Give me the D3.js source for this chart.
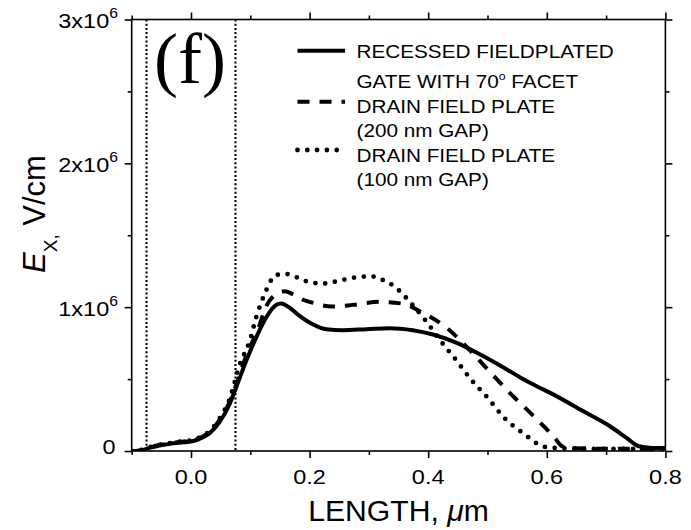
<!DOCTYPE html>
<html>
<head>
<meta charset="utf-8">
<script src="https://cdn.jsdelivr.net/npm/d3@7"></script>
<style>
  body { margin: 0; background: #fff; }
  svg { display: block; }
</style>
</head>
<body>
<svg id="chart" width="691" height="530"></svg>
<script>
// Lateral electric field E_x along the channel (units of 10^6 V/cm)
// for three gate / field-plate designs.

const lengthRecessed = [-0.1, -0.09, -0.08, -0.069, -0.055, -0.041, -0.02, 0.004, 0.016, 0.032, 0.048, 0.065, 0.076, 0.093, 0.110, 0.127, 0.144, 0.152, 0.166, 0.183, 0.206, 0.228, 0.256, 0.296, 0.335, 0.374, 0.408, 0.447, 0.487, 0.532, 0.556, 0.588, 0.605, 0.661, 0.706, 0.734, 0.754, 0.773, 0.8];
const fieldRecessed  = [0, 0, 0.008, 0.023, 0.036, 0.046, 0.058, 0.07, 0.088, 0.125, 0.2, 0.325, 0.44, 0.626, 0.79, 0.93, 1.016, 1.025, 0.997, 0.94, 0.88, 0.847, 0.84, 0.847, 0.854, 0.84, 0.81, 0.754, 0.673, 0.569, 0.51, 0.44, 0.406, 0.278, 0.174, 0.093, 0.035, 0.023, 0.02];

const lengthGap200 = [-0.1, -0.09, -0.08, -0.069, -0.055, -0.041, -0.02, 0.004, 0.016, 0.032, 0.048, 0.065, 0.076, 0.093, 0.116, 0.124, 0.14, 0.158, 0.172, 0.19, 0.206, 0.237, 0.273, 0.317, 0.356, 0.39, 0.432, 0.466, 0.5, 0.537, 0.576, 0.613, 0.625, 0.64, 0.7, 0.8];
const fieldGap200  = [0, 0.002, 0.01, 0.027, 0.04, 0.05, 0.062, 0.075, 0.093, 0.135, 0.215, 0.34, 0.46, 0.66, 0.88, 0.98, 1.08, 1.11, 1.09, 1.05, 1.03, 1.004, 1.016, 1.037, 1.025, 0.962, 0.854, 0.719, 0.568, 0.406, 0.25, 0.093, 0.035, 0.02, 0.015, 0.015];

const lengthGap100 = [-0.1, -0.09, -0.08, -0.069, -0.055, -0.041, -0.02, 0.004, 0.016, 0.032, 0.048, 0.065, 0.082, 0.099, 0.110, 0.124, 0.144, 0.162, 0.192, 0.223, 0.256, 0.292, 0.308, 0.323, 0.340, 0.356, 0.370, 0.396, 0.421, 0.446, 0.471, 0.500, 0.528, 0.564, 0.581, 0.595, 0.62, 0.7, 0.8];
const fieldGap100  = [0, 0.003, 0.012, 0.028, 0.042, 0.052, 0.064, 0.078, 0.097, 0.14, 0.225, 0.36, 0.6, 0.765, 0.93, 1.09, 1.225, 1.23, 1.183, 1.164, 1.19, 1.213, 1.213, 1.19, 1.153, 1.095, 1.032, 0.905, 0.765, 0.638, 0.503, 0.371, 0.232, 0.111, 0.058, 0.03, 0.02, 0.015, 0.015];

// Gate edges marked by thin dotted verticals
const gateEdges = [-0.075, 0.075];

// Axis ticks and labels
const xMajorTicks = [0.0, 0.2, 0.4, 0.6, 0.8];
const xMinorTicks = [-0.1, 0.1, 0.3, 0.5, 0.7];
const xTickLabels = ["0.0", "0.2", "0.4", "0.6", "0.8"];
const yMajorTicks = [0, 1, 2, 3];
const yMinorTicks = [0.5, 1.5, 2.5];
const yTickMantissa = ["0", "1x10", "2x10", "3x10"];
const yTickExponent = ["", "6", "6", "6"];

// Legend text, one entry per series
const legendLabels = [
  ["RECESSED FIELDPLATED", "GATE WITH 70° FACET"],
  ["DRAIN FIELD PLATE", "(200 nm GAP)"],
  ["DRAIN FIELD PLATE", "(100 nm GAP)"]
];

const svg = d3.select("#chart");
const SANS = "'Liberation Sans', Arial, Helvetica, sans-serif";
const SERIF = "'Liberation Serif', 'Times New Roman', serif";
const SX = 1.12; // horizontal stretch of the lettering

const x = d3.scaleLinear().domain([-0.1, 0.8]).range([131.7, 665.4]);
const y = d3.scaleLinear().domain([0, 3]).range([451, 19.5]);

const [x0, x1] = x.range();
const [y0, y1] = y.range();

// clip for the curves
svg.append("defs").append("clipPath").attr("id", "plot-clip")
  .append("rect").attr("x", x0).attr("y", y1).attr("width", x1 - x0).attr("height", y0 - y1);

// gate edge markers
svg.append("g").selectAll("line").data(gateEdges).join("line")
  .attr("x1", d => x(d)).attr("x2", d => x(d))
  .attr("y1", y1).attr("y2", y0)
  .attr("stroke", "#000").attr("stroke-width", 2.1)
  .attr("stroke-dasharray", "2,2.2");

// curves
const line = d3.line().x(d => x(d[0])).y(d => y(d[1])).curve(d3.curveMonotoneX);
const zip = (a, b) => a.map((v, i) => [v, b[i]]);
const series = [
  { pts: zip(lengthRecessed, fieldRecessed), dash: null, width: 4, cap: "butt" },
  { pts: zip(lengthGap200, fieldGap200), dash: "12,10", width: 4, cap: "butt" },
  { pts: zip(lengthGap100, fieldGap100), dash: "0,9.8", width: 4.8, cap: "round" }
];
const curves = svg.append("g").attr("clip-path", "url(#plot-clip)");
series.forEach(s => {
  curves.append("path").attr("d", line(s.pts))
    .attr("fill", "none").attr("stroke", "#000")
    .attr("stroke-width", s.width)
    .attr("stroke-linecap", s.cap)
    .attr("stroke-linejoin", "round")
    .attr("stroke-dasharray", s.dash);
});

// frame
svg.append("rect").attr("x", x0).attr("y", y1).attr("width", x1 - x0).attr("height", y0 - y1)
  .attr("fill", "none").attr("stroke", "#000").attr("stroke-width", 1.6);

// tick marks on all four sides, pointing outward
function tickStyle(g) {
  g.select(".domain").remove();
  g.selectAll(".tick line").attr("stroke", "#000").attr("stroke-width", 1.6);
  g.selectAll(".tick text").remove();
}
const noLabel = () => "";
[[xMajorTicks, 7], [xMinorTicks, 4]].forEach(([vals, len]) => {
  svg.append("g").attr("transform", `translate(0,${y0})`)
    .call(d3.axisBottom(x).tickValues(vals).tickSize(len).tickFormat(noLabel)).call(tickStyle);
  svg.append("g").attr("transform", `translate(0,${y1})`)
    .call(d3.axisTop(x).tickValues(vals).tickSize(len).tickFormat(noLabel)).call(tickStyle);
});
[[yMajorTicks, 7], [yMinorTicks, 4]].forEach(([vals, len]) => {
  svg.append("g").attr("transform", `translate(${x0},0)`)
    .call(d3.axisLeft(y).tickValues(vals).tickSize(len).tickFormat(noLabel)).call(tickStyle);
  svg.append("g").attr("transform", `translate(${x1},0)`)
    .call(d3.axisRight(y).tickValues(vals).tickSize(len).tickFormat(noLabel)).call(tickStyle);
});

// x tick labels
svg.append("g").selectAll("text").data(xMajorTicks).join("text")
  .attr("transform", d => `translate(${x(d)},${y0 + 32.5}) scale(${SX},1)`)
  .attr("text-anchor", "middle")
  .attr("font-family", SANS).attr("font-size", 21)
  .text((d, i) => xTickLabels[i]);

// y tick labels with power-of-ten exponent
yMajorTicks.forEach((v, i) => {
  const hasExp = yTickExponent[i] !== "";
  const t = svg.append("text")
    .attr("transform", `translate(${hasExp ? 118 : 115.5},${y(v) + (hasExp ? 8.5 : 2.5)}) scale(${SX},1)`)
    .attr("text-anchor", "end")
    .attr("font-family", SANS).attr("font-size", 21)
    .text(yTickMantissa[i]);
  if (hasExp) {
    t.append("tspan").attr("dy", -10).attr("font-size", 14).text(yTickExponent[i]);
  }
});

// axis titles
const xTitle = svg.append("text")
  .attr("transform", `translate(${(x0 + x1) / 2},521) scale(1.04,1)`)
  .attr("text-anchor", "middle")
  .attr("font-family", SANS).attr("font-size", 29);
xTitle.append("tspan").text("LENGTH, ");
xTitle.append("tspan").attr("font-style", "italic").text("\u03bc");
xTitle.append("tspan").text("m");

const yTitle = svg.append("text")
  .attr("transform", "translate(45,214) rotate(-90)")
  .attr("text-anchor", "middle")
  .attr("font-family", SANS).attr("font-size", 31);
yTitle.append("tspan").attr("font-style", "italic").text("E");
yTitle.append("tspan").attr("font-size", 19).attr("dy", 12).text("X,");
yTitle.append("tspan").attr("dy", -12).text(" V/cm");

// panel tag
svg.append("text")
  .attr("transform", `translate(154,83)`)
  .attr("font-family", SERIF).attr("font-size", 72)
  .text("(f)");

// legend
const legendSampleX = [297.5, 345];
const legendSampleY = [50.7, 101.7, 150];
const legendBaselines = [[58.3, 88.3], [112.7, 137.3], [161.7, 186]];
const legendTextX = 356.5;
const lg = svg.append("g");
series.forEach((s, i) => {
  lg.append("line")
    .attr("x1", legendSampleX[0]).attr("x2", legendSampleX[1])
    .attr("y1", legendSampleY[i]).attr("y2", legendSampleY[i])
    .attr("stroke", "#000").attr("stroke-width", s.width)
    .attr("stroke-linecap", s.cap)
    .attr("stroke-dasharray", s.dash);
  legendLabels[i].forEach((label, j) => {
    const t = lg.append("text")
      .attr("transform", `translate(${legendTextX},${legendBaselines[i][j]}) scale(${SX},1)`)
      .attr("font-family", SANS).attr("font-size", 18.5);
    const parts = label.split("°");
    parts.forEach((p, k) => {
      const sp = t.append("tspan").text(p);
      if (k > 0) sp.attr("dy", 8);
      if (k < parts.length - 1) {
        t.append("tspan").attr("dy", -8).attr("font-size", 11).text("o");
      }
    });
  });
});
</script>
</body>
</html>
